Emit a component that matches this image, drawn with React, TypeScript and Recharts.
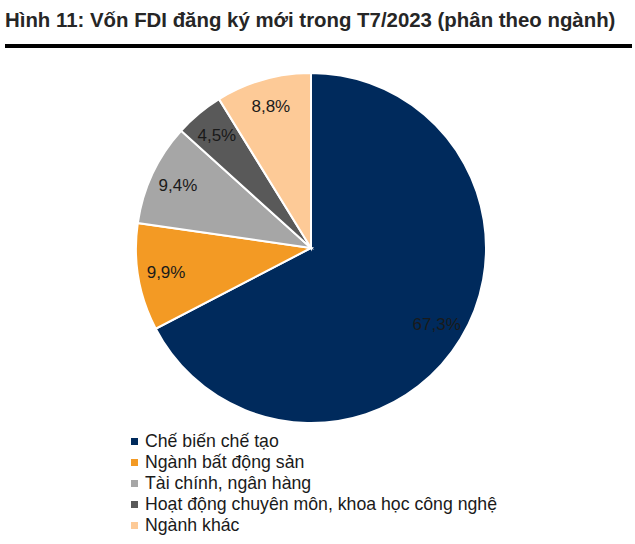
// FDI registered capital by sector, July 2023 — pie with side legend.
import { PieChart, Pie, Cell } from "recharts";

const SECTORS = [
  "Chế biến chế tạo",
  "Ngành bất động sản",
  "Tài chính, ngân hàng",
  "Hoạt động chuyên môn, khoa học công nghệ",
  "Ngành khác",
];
const SHARES = [67.3, 9.9, 9.4, 4.5, 8.8];
const COLORS = ["#002a5c", "#f39a24", "#a6a6a6", "#595959", "#fdca97"];

const FONT = "'Liberation Sans', Arial, sans-serif";

const data = SECTORS.map((name, i) => ({ name, value: SHARES[i] }));

const RAD = Math.PI / 180;

function renderLabel(p: any) {
  const r = p.outerRadius * 0.84;
  const x = p.cx + r * Math.cos(-p.midAngle * RAD);
  const y = p.cy + r * Math.sin(-p.midAngle * RAD);
  return (
    <text
      x={x}
      y={y}
      textAnchor="middle"
      dominantBaseline="central"
      fill="#1a1a1a"
      fontSize={17}
      fontFamily={FONT}
    >
      {p.value.toFixed(1).replace(".", ",")}%
    </text>
  );
}

export default function App() {
  return (
    <div style={{ position: "absolute", left: 0, top: 0, width: 635, height: 544, background: "#fff", fontFamily: FONT }}>
      <div style={{ position: "absolute", left: 5, top: 8, fontSize: 20.4, lineHeight: "24px", fontWeight: "bold", color: "#262626", whiteSpace: "nowrap" }}>
        Hình 11: Vốn FDI đăng ký mới trong T7/2023 (phân theo ngành)
      </div>
      <div style={{ position: "absolute", left: 5, top: 44, width: 627, height: 4, background: "#000" }} />
      <div style={{ position: "absolute", left: 0, top: 0 }}>
        {/* chart margin is 5px, so cx/cy are relative to that */}
        <PieChart width={635} height={544}>
          <Pie
            data={data}
            dataKey="value"
            nameKey="name"
            cx={306}
            cy={243}
            outerRadius={175}
            startAngle={90}
            endAngle={-270}
            stroke="#fff"
            strokeWidth={2}
            label={renderLabel}
            labelLine={false}
            isAnimationActive={false}
          >
            {data.map((_, i) => (
              <Cell key={i} fill={COLORS[i]} />
            ))}
          </Pie>
        </PieChart>
      </div>
      <div style={{ position: "absolute", left: 131, top: 431 }}>
        {SECTORS.map((s, i) => (
          <div key={s} style={{ display: "flex", alignItems: "center", height: 21, fontSize: 17.7, color: "#1a1a1a", whiteSpace: "nowrap" }}>
            <span style={{ display: "inline-block", width: 7, height: 7, background: COLORS[i], marginRight: 7 }} />
            {s}
          </div>
        ))}
      </div>
    </div>
  );
}
